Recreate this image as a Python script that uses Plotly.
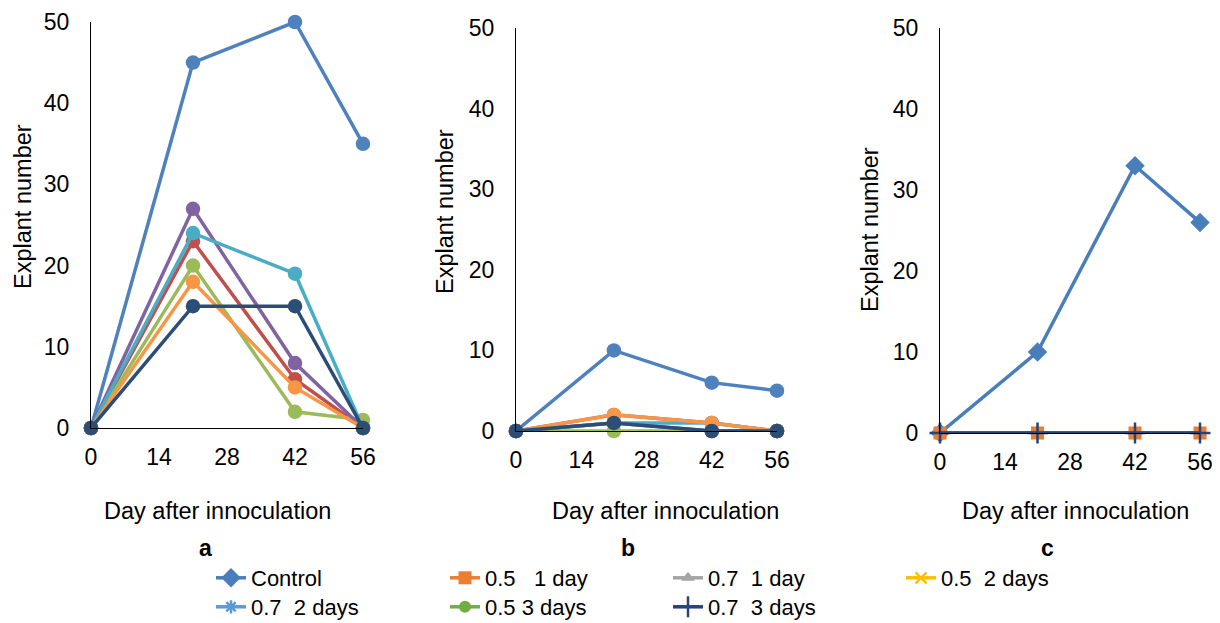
import plotly.graph_objects as go

days = [0, 21, 42, 56]
series_names = ["Control", "0.5   1 day", "0.7  1 day", "0.5  2 days", "0.7  2 days", "0.5 3 days", "0.7  3 days"]

# Panel a values
a_control = [0, 45, 50, 35]
a_05_1d = [0, 23, 6, 0]
a_07_1d = [0, 20, 2, 1]
a_05_2d = [0, 27, 8, 0]
a_07_2d = [0, 24, 19, 0]
a_05_3d = [0, 18, 5, 0]
a_07_3d = [0, 15, 15, 0]

# Panel b values
b_control = [0, 10, 6, 5]
b_05_1d = [0, 2, 1, 0]
b_07_1d = [0, 0, 0, 0]
b_05_2d = [0, 1, 0, 0]
b_07_2d = [0, 1, 1, 0]
b_05_3d = [0, 2, 1, 0]
b_07_3d = [0, 1, 0, 0]

# Panel c values
c_control = [0, 10, 33, 26]
c_05_1d = [0, 0, 0, 0]
c_07_1d = [0, 0, 0, 0]
c_05_2d = [0, 0, 0, 0]
c_07_2d = [0, 0, 0, 0]
c_05_3d = [0, 0, 0, 0]
c_07_3d = [0, 0, 0, 0]

x_ticks = [0, 14, 28, 42, 56]
y_ticks = [0, 10, 20, 30, 40, 50]

panel_a = [a_control, a_05_1d, a_07_1d, a_05_2d, a_07_2d, a_05_3d, a_07_3d]
panel_b = [b_control, b_05_1d, b_07_1d, b_05_2d, b_07_2d, b_05_3d, b_07_3d]
panel_c = [c_control, c_05_1d, c_07_1d, c_05_2d, c_07_2d, c_05_3d, c_07_3d]

colors_2010 = ["#4F81BD", "#C0504D", "#9BBB59", "#8064A2", "#4BACC6", "#F79646", "#2C4D75"]
colors_2013 = ["#4A7EBB", "#ED7D31", "#A5A5A5", "#FFC000", "#5B9BD5", "#70AD47", "#264478"]
symbols_c = ["diamond", "square", "triangle-up", "x-thin-open", "asterisk-open", "circle", "cross-thin-open"]
sizes_c = [15, 13, 12, 11, 11, 12, 15]

FONT = "Liberation Sans, Arial, sans-serif"
OFF = 8                      # browser default body margin
W, H = 1220 - OFF, 623 - OFF

def px_x(p):
    return (p - OFF) / W

def px_y(p):
    return (H - (p - OFF)) / H

# legend slot per series: (text start x px, row centre y px) in page pixels
legend_slots = [(251, 578), (485, 578), (708, 578), (941, 578),
                (251, 607), (485, 607), (708, 607)]

fig = go.Figure()

for vals, col in zip(panel_a, colors_2010):
    fig.add_trace(go.Scatter(x=days, y=vals, mode="lines+markers", xaxis="x", yaxis="y",
                             line=dict(color=col, width=3.5), marker=dict(size=14.5, color=col, symbol="circle"),
                             cliponaxis=False, showlegend=False))

for vals, col in zip(panel_b, colors_2010):
    fig.add_trace(go.Scatter(x=days, y=vals, mode="lines+markers", xaxis="x2", yaxis="y2",
                             line=dict(color=col, width=3.5), marker=dict(size=14.5, color=col, symbol="circle"),
                             cliponaxis=False, showlegend=False))

# Panel c drawn in an order that leaves orange squares and dark-blue crosses on top
draw_order = [0, 2, 3, 4, 5, 1, 6]
for i in draw_order:
    sym = symbols_c[i]
    col = colors_2013[i]
    mk = dict(size=sizes_c[i], color=col, symbol=sym)
    if sym.endswith("open"):
        mk["line"] = dict(color=col, width=2.5)
    fig.add_trace(go.Scatter(x=days, y=panel_c[i], mode="lines+markers", xaxis="x3", yaxis="y3",
                             name=series_names[i], legend="legend" if i == 0 else "legend%d" % (i + 1),
                             line=dict(color=col, width=3.5), marker=mk,
                             cliponaxis=False, showlegend=True))

axis_common = dict(showgrid=False, zeroline=False, showline=True, linecolor="black", linewidth=1,
                   ticks="", tickfont=dict(family=FONT, size=23, color="black"), fixedrange=True)

panels = [
    ("", (91, 363), (428, 22)),
    ("2", (516, 777), (431, 28)),
    ("3", (940, 1200), (433, 28)),
]
layout_axes = {}
for suf, (x0, x1), (yb, yt) in panels:
    layout_axes["xaxis" + suf] = dict(axis_common, domain=[px_x(x0), px_x(x1)], range=[0, 56],
                                      tickvals=x_ticks, ticktext=[str(v) for v in x_ticks],
                                      anchor="y" + suf, ticklabelstandoff=8)
    layout_axes["yaxis" + suf] = dict(axis_common, domain=[px_y(yb), px_y(yt)], range=[0, 50],
                                      tickvals=y_ticks, anchor="x" + suf, ticklabelstandoff=16)

fig.update_layout(**layout_axes)

annotations = []
ytitles = [(23, 207), (445, 212), (870, 230)]
for (x, y) in ytitles:
    annotations.append(dict(text="Explant number", x=px_x(x), y=px_y(y), xref="paper", yref="paper",
                            showarrow=False, textangle=-90, xanchor="center", yanchor="middle",
                            borderpad=0, font=dict(family=FONT, size=23.5, color="black")))
xtitles = [(218, 511), (665, 511), (1075, 511)]
for (x, y) in xtitles:
    annotations.append(dict(text="Day after innoculation", x=px_x(x), y=px_y(y), xref="paper", yref="paper",
                            showarrow=False, xanchor="center", yanchor="middle",
                            font=dict(family=FONT, size=23.5, color="black")))
letters = [("a", 205, 548), ("b", 628, 548), ("c", 1047, 548)]
for (t, x, y) in letters:
    annotations.append(dict(text="<b>" + t + "</b>", x=px_x(x), y=px_y(y), xref="paper", yref="paper",
                            showarrow=False, xanchor="center", yanchor="middle",
                            font=dict(family=FONT, size=23, color="black")))

legends = {}
for i, (tx, ty) in enumerate(legend_slots):
    key = "legend" if i == 0 else "legend%d" % (i + 1)
    legends[key] = dict(x=px_x(tx - 40), y=px_y(ty), xanchor="left", yanchor="middle",
                        orientation="v", font=dict(family=FONT, size=22, color="black"),
                        bgcolor="rgba(0,0,0,0)", borderwidth=0,
                        itemclick=False, itemdoubleclick=False)

fig.update_layout(
    width=W, height=H, autosize=False,
    margin=dict(l=0, r=0, t=0, b=0, pad=0, autoexpand=False),
    paper_bgcolor="white", plot_bgcolor="white",
    annotations=annotations,
    **legends,
)

fig.write_html("out.html")
